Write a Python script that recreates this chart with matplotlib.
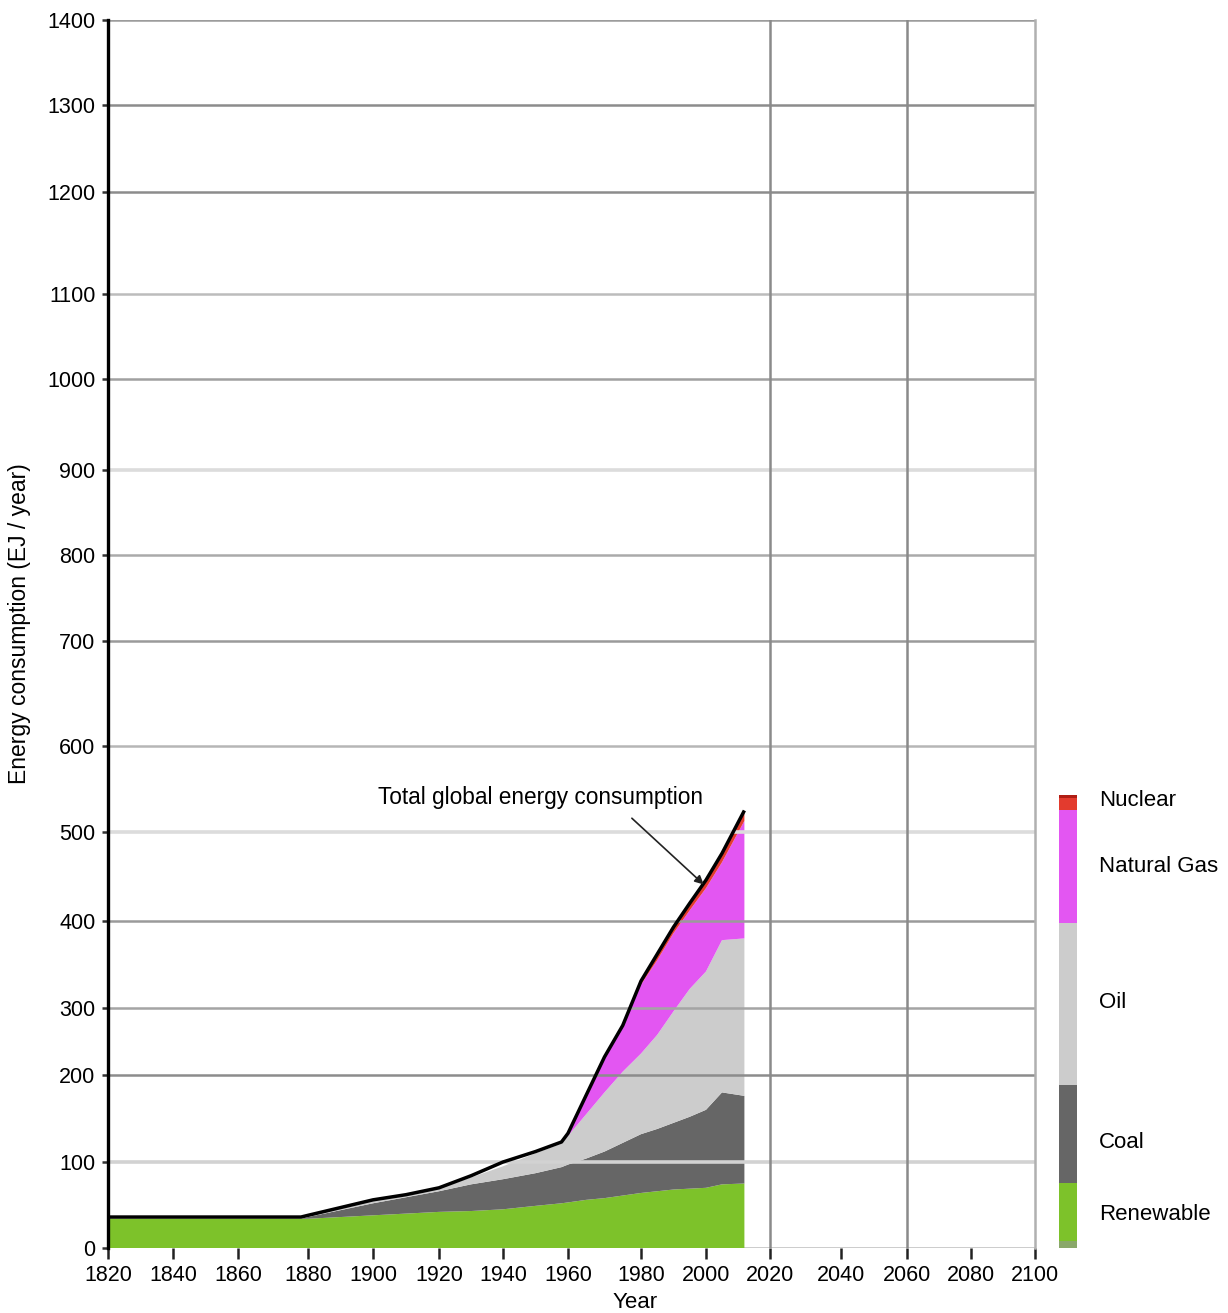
import numpy as np
import matplotlib
matplotlib.use("Agg")
import matplotlib.pyplot as plt

plt.rcParams['font.family'] = ['Liberation Sans', 'DejaVu Sans']

# ---------------- data ----------------
years = [1820, 1878, 1880, 1890, 1900, 1910, 1920, 1930, 1940, 1950, 1958,
         1960, 1965, 1970, 1975, 1980, 1985, 1990, 1995, 2000, 2005, 2012]
renewable = [34, 34, 34, 36, 38, 40, 42, 43, 45, 49, 52,
             53, 56, 58, 61, 64, 66, 68, 69, 70, 74, 75]
coal = [0, 0, 2, 8, 14, 19, 24, 31, 35, 38, 42,
        44, 48, 54, 61, 68, 72, 77, 83, 90, 106, 101]
oil = [0, 0, 2, 2, 3, 3, 3, 8, 15, 23, 27,
       33, 51, 68, 83, 100, 122, 150, 170, 182, 198, 204]
natural_gas = [0, 0, 0, 0, 0, 0, 0, 0, 0, 0, 0,
               1, 20, 46, 67, 95, 95, 91, 90, 95, 88, 133]
nuclear = [0, 0, 0, 0, 0, 0, 0, 0, 0, 0, 0,
           0, 0, 1, 2, 4, 5, 7, 8, 9, 10, 12]
total = [36, 36, 38, 47, 56, 62, 70, 84, 100, 112, 123,
         133, 177, 227, 274, 331, 362, 393, 420, 446, 476, 525]

series_names = ["Renewable", "Coal", "Oil", "Natural Gas", "Nuclear"]
series_colors = ["#7dc22a", "#666666", "#cccccc", "#e356f2", "#e33b2e"]

y_ticks = [0, 100, 200, 300, 400, 500, 600, 700, 800, 900, 1000, 1100, 1200, 1300, 1400]
x_ticks = list(range(1820, 2101, 20))

# ---------------- non-uniform axis scales of the original drawing ----------------
W, H = 1228, 1313
y_pix = np.array([1248, 1162, 1075, 1008, 921, 832, 746, 641, 555, 470, 379, 294, 192, 105, 20], float)
x_pix = np.array([108, 173, 238, 308, 373, 439, 503, 568, 641, 706, 770, 841, 907, 971, 1035], float)

def make_scale(vals, pix, invert):
    vals = np.asarray(vals, float)
    u = (pix[0] - pix) if invert else (pix - pix[0])
    v_ext = np.concatenate([[vals[0] - 10 * (vals[1] - vals[0])], vals, [vals[-1] + 10 * (vals[-1] - vals[-2])]])
    u_ext = np.concatenate([[u[0] - 10 * (u[1] - u[0])], u, [u[-1] + 10 * (u[-1] - u[-2])]])
    fwd = lambda v: np.interp(v, v_ext, u_ext)
    inv = lambda t: np.interp(t, u_ext, v_ext)
    return fwd, inv

yf, yi = make_scale(y_ticks, y_pix, True)
xf, xi = make_scale(x_ticks, x_pix, False)

fig = plt.figure(figsize=(W / 100, H / 100), dpi=100)
ax = fig.add_axes([108 / W, (H - 1248) / H, (1035 - 108) / W, (1248 - 20) / H])
ax.set_xscale('function', functions=(xf, xi))
ax.set_yscale('function', functions=(yf, yi))
ax.set_xlim(1820, 2100)
ax.set_ylim(0, 1400)

# stacked areas
ax.stackplot(years, renewable, coal, oil, natural_gas, nuclear,
             colors=series_colors, labels=series_names, zorder=2, linewidth=0)

# horizontal gridlines (drawn over the areas as in the original)
grid_style = {
    0: ("#c8c8c8", 2.0), 100: ("#d2d2d2", 2.6), 200: ("#8c8c8c", 1.8), 300: ("#a4a4a4", 1.8),
    400: ("#9a9a9a", 1.8), 500: ("#dcdcdc", 2.6), 600: ("#b6b6b6", 1.8), 700: ("#9a9a9a", 1.8),
    800: ("#aaaaaa", 1.8), 900: ("#dcdcdc", 2.6), 1000: ("#a0a0a0", 1.8), 1100: ("#bcbcbc", 1.8),
    1200: ("#8c8c8c", 1.8), 1300: ("#8c8c8c", 1.8), 1400: ("#9c9c9c", 1.8),
}
for v in y_ticks:
    c, lw = grid_style[v]
    ax.axhline(v, color=c, lw=lw, zorder=1 if v == 0 else 2.5)
for v in (2020, 2060):
    ax.axvline(v, color="#8a8a8a", lw=1.8, zorder=2.5)

# total line
ax.plot(years, total, color="black", lw=2.5, zorder=4, solid_joinstyle='round',
        solid_capstyle='butt')

# spines
for s in ("top", "bottom"):
    ax.spines[s].set_visible(False)
ax.spines["left"].set_color("black")
ax.spines["left"].set_linewidth(2.4)
ax.spines["left"].set_zorder(5)
ax.spines["right"].set_color("#b0b0b0")
ax.spines["right"].set_linewidth(1.8)

ax.set_xticks(x_ticks)
ax.set_yticks(y_ticks)
ax.set_xticklabels([str(v) for v in x_ticks])
ax.set_yticklabels([str(v) for v in y_ticks])
ax.xaxis.set_minor_locator(matplotlib.ticker.NullLocator())
ax.yaxis.set_minor_locator(matplotlib.ticker.NullLocator())
ax.tick_params(axis='x', direction='out', length=8, width=1.8, color="#222222",
               labelsize=15.5, pad=4)
ax.tick_params(axis='y', direction='out', length=4, width=1.8, color="#333333",
               labelsize=15.5, pad=5)

ax.set_xlabel("Year", fontsize=16, va='center')
ax.xaxis.set_label_coords((635 - 108) / 927, (1248 - 1302) / 1228)
ax.set_ylabel("Energy consumption (EJ / year)", fontsize=16.5, va='center')
ax.yaxis.set_label_coords((20 - 108) / 927, (1248 - 624) / 1228)

# annotation
ax.text(1951.4, 540, "Total global energy consumption", fontsize=16.3,
        ha='center', va='center', zorder=6)
ax.annotate("", xy=(1999.3, 441), xytext=(1977.5, 516),
            arrowprops=dict(arrowstyle='-|>', lw=1.2, color="#222222",
                            mutation_scale=13, shrinkA=0, shrinkB=0), zorder=6)

# legend colour bar
lax = fig.add_axes([1059 / W, (H - 1248) / H, 18 / W, (1248 - 795) / H])
lax.set_xlim(0, 1)
lax.set_ylim(1248, 795)
seg_bounds = [(1248, 1183), (1183, 1085), (1085, 923), (923, 810), (810, 795)]
for (b, t), c in zip(seg_bounds, series_colors):
    lax.axhspan(b, t, color=c, lw=0)
lax.axhspan(1248, 1241, color="#8aa86a", lw=0)
lax.axhspan(798, 795, color="#b01e14", lw=0)
lax.axis('off')

label_pos = {"Nuclear": 801, "Natural Gas": 866, "Oil": 1003, "Coal": 1142, "Renewable": 1214}
for name in series_names[::-1]:
    fig.text(1099 / W, 1 - label_pos[name] / H, name, fontsize=16, ha='left', va='center')

fig.savefig("out.png", dpi=100)
